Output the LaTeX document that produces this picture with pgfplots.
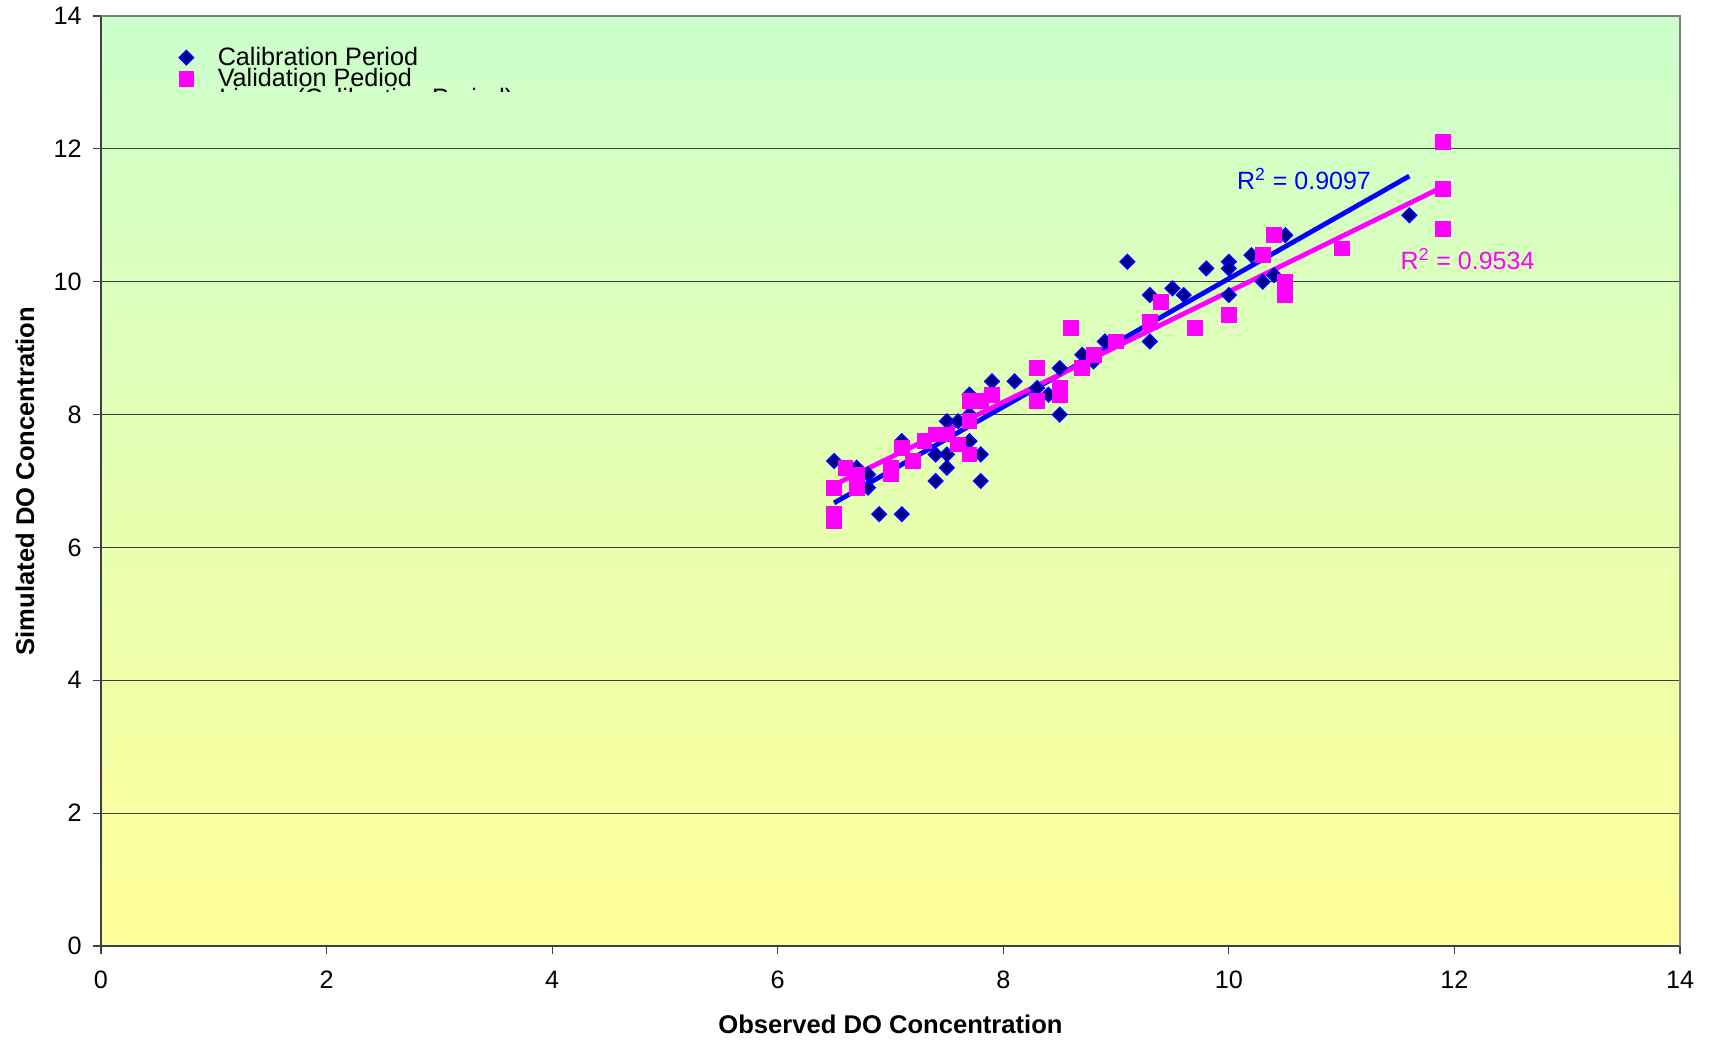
\documentclass[border=0pt]{standalone}
\usepackage{pgfplots}
\pgfplotsset{compat=1.18}
\usepackage{fontspec}
\setmainfont{Liberation Sans}
\definecolor{calblue}{HTML}{0000FF}
\definecolor{calnavy}{HTML}{000080}
\definecolor{valmag}{HTML}{FF00FF}
\definecolor{bgtop}{HTML}{CCFFCC}
\definecolor{bgbot}{HTML}{FFFF99}
\definecolor{gridc}{HTML}{404040}
\definecolor{framec}{HTML}{808080}
\begin{document}
\begin{tikzpicture}
\useasboundingbox (0,0) rectangle (856.5pt,519.5pt);
\begin{axis}[
  at={(50.5pt,46.5pt)}, anchor=south west,
  scale only axis, width=789.5pt, height=465pt,
  xmin=0, xmax=14, ymin=0, ymax=14,
  xtick={0,2,...,14}, ytick={0,2,...,14},
  axis background/.style={top color=bgtop, bottom color=bgbot},
  ymajorgrids, grid style={gridc, line width=0.5pt},
  axis line style={gridc, line width=0.6pt},
  xtick pos=left, ytick pos=left, tick align=outside,
  major tick length=4pt, tick style={gridc, line width=0.6pt},
  /pgf/number format/assume math mode=true,
  ticklabel style={font=\fontsize{12.6}{13}\selectfont, inner sep=0pt},
  xticklabel style={anchor=center, yshift=-13pt},
  yticklabel style={anchor=east, xshift=-5.5pt},
  xlabel={Observed DO Concentration},
  ylabel={Simulated DO Concentration},
  xlabel style={font=\bfseries\fontsize{12.8}{13}\selectfont, at={(axis description cs:0.5,0)}, anchor=center, yshift=-39pt},
  ylabel style={font=\bfseries\fontsize{12.8}{13}\selectfont, at={(axis description cs:-0.0481,0.5)}, anchor=center},
  legend style={at={(axis description cs:0.0494,0.9665)}, anchor=north west,
    draw=none, fill=none, inner sep=0pt, outer sep=0pt, row sep=0pt, column sep=12pt,
    font=\fontsize{12.6}{12.6}\selectfont,
    nodes={inner sep=0pt, text height=9pt, text depth=1.5pt}, cells={anchor=west}},
  legend image code/.code={\draw[mark repeat=2,mark phase=2,#1] plot coordinates {(-4pt,0pt)(0pt,0pt)(4pt,0pt)};},
  clip=false,
]
\addplot[only marks, mark=square*, mark size=2.5pt,
  mark options={rotate=45, fill=calnavy, draw=calblue, line width=0.8pt}]
coordinates {
(6.5,7.3) (6.7,7.2) (6.8,7.1) (6.8,6.9) (6.9,6.5) (7.1,6.5) (7.1,7.6)
(7.4,7.0) (7.4,7.4) (7.5,7.4) (7.5,7.2) (7.5,7.9) (7.6,7.9) (7.7,8.3)
(7.7,8.0) (7.7,7.6) (7.8,7.4) (7.8,7.0) (7.9,8.5) (8.1,8.5) (8.3,8.4)
(8.4,8.3) (8.5,8.7) (8.5,8.0) (8.7,8.9) (8.8,8.8) (8.9,9.1) (9.1,10.3)
(9.3,9.8) (9.3,9.1) (9.5,9.9) (9.6,9.8) (9.8,10.2) (10.0,10.3) (10.0,10.2)
(10.0,9.8) (10.2,10.4) (10.3,10.0) (10.4,10.1) (10.5,10.7) (11.6,11.0)
};
\addlegendentry{Calibration Period}
\addplot[only marks, mark=square*, mark size=3.7pt,
  mark options={fill=valmag, draw=valmag, line width=0.4pt}]
coordinates {
(6.5,6.9) (6.5,6.5) (6.5,6.4) (6.6,7.2) (6.7,7.1) (6.7,6.9) (7.0,7.2)
(7.0,7.1) (7.1,7.5) (7.2,7.3) (7.3,7.6) (7.4,7.7) (7.5,7.7) (7.6,7.55)
(7.7,7.4) (7.7,7.9) (7.7,8.2) (7.8,8.2) (7.9,8.3) (8.3,8.7) (8.3,8.2)
(8.5,8.4) (8.5,8.3) (8.6,9.3) (8.7,8.7) (8.8,8.9) (9.0,9.1) (9.3,9.4)
(9.4,9.7) (9.7,9.3) (10.0,9.5) (10.3,10.4) (10.4,10.7) (10.5,10.0)
(10.5,9.9) (10.5,9.8) (11.0,10.5) (11.9,12.1) (11.9,11.4) (11.9,10.8)
};
\addlegendentry{Validation Pediod}
\addplot[forget plot, calblue, line width=2.4pt] coordinates {(6.5,6.67) (11.6,11.59)};
\addplot[forget plot, valmag, line width=2.4pt] coordinates {(6.5,6.94) (11.9,11.43)};
\node[calblue, anchor=west, inner sep=0pt, font=\fontsize{12.5}{12.5}\selectfont] at (axis cs:10.07,11.55) {R\textsuperscript{2} = 0.9097};
\node[valmag, anchor=west, inner sep=0pt, font=\fontsize{12.5}{12.5}\selectfont] at (axis cs:11.52,10.34) {R\textsuperscript{2} = 0.9534};
\begin{scope}
\clip (axis cs:0,12.862) rectangle (axis cs:7,14);
\node[anchor=base west, inner sep=0pt, font=\fontsize{12.6}{12.6}\selectfont] at (axis cs:1.045,12.63) {Linear (Calibration Period)};
\end{scope}
\draw[framec, line width=1pt] (rel axis cs:0,1) -- (rel axis cs:1,1) -- (rel axis cs:1,0);
\end{axis}
\end{tikzpicture}
\end{document}
